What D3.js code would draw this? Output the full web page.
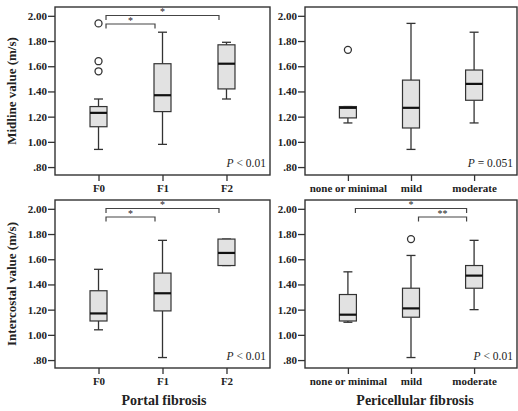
<!DOCTYPE html>
<html>
<head>
<meta charset="utf-8">
<script src="https://cdn.jsdelivr.net/npm/d3@7"></script>
<style>
  body { margin: 0; background: #fff; }
  text { font-family: "Liberation Serif", "DejaVu Serif", serif; fill: #222; }
</style>
</head>
<body>
<div id="chart"></div>
<script>
// categories
const portalCats = ["F0", "F1", "F2"];
const periCats = ["none or minimal", "mild", "moderate"];
const yTicks = [0.8, 1.0, 1.2, 1.4, 1.6, 1.8, 2.0];

// box stats: [low whisker, q1, median, q3, high whisker]
const midlinePortal = [[0.94, 1.12, 1.23, 1.28, 1.34], [0.98, 1.24, 1.37, 1.62, 1.87], [1.34, 1.42, 1.62, 1.77, 1.79]];
const midlinePortalOut = [[1.56, 1.64, 1.94], [], []];
const midlinePeri = [[1.15, 1.19, 1.27, 1.28, 1.28], [0.94, 1.11, 1.27, 1.49, 1.94], [1.15, 1.33, 1.46, 1.57, 1.87]];
const midlinePeriOut = [[1.73], [], []];
const interPortal = [[1.04, 1.11, 1.17, 1.35, 1.52], [0.82, 1.19, 1.33, 1.49, 1.75], [1.55, 1.55, 1.65, 1.76, 1.76]];
const interPortalOut = [[], [], []];
const interPeri = [[1.10, 1.11, 1.16, 1.32, 1.50], [0.82, 1.14, 1.21, 1.37, 1.63], [1.20, 1.37, 1.47, 1.55, 1.75]];
const interPeriOut = [[], [1.76], []];

// significance brackets: [from index, to index, label, level]
const midlinePortalSig = [[0, 1, "*", 0], [0, 2, "*", 1]];
const interPortalSig = [[0, 1, "*", 0], [0, 2, "*", 1]];
const interPeriSig = [[1, 2, "**", 0], [0, 2, "*", 1]];

const pLabels = ["< 0.01", "= 0.051", "< 0.01", "< 0.01"];

const W = 518, H = 411;
const svg = d3.select("#chart").append("svg").attr("width", W).attr("height", H);

const cols = [{x0: 55, x1: 270}, {x0: 305, x1: 517}];
const rows = [{y0: 7, y1: 175}, {y0: 200, y1: 368}];

const panels = [
  {r: 0, c: 0, cats: portalCats, stats: midlinePortal, out: midlinePortalOut, sig: midlinePortalSig, p: pLabels[0]},
  {r: 0, c: 1, cats: periCats, stats: midlinePeri, out: midlinePeriOut, sig: [], p: pLabels[1]},
  {r: 1, c: 0, cats: portalCats, stats: interPortal, out: interPortalOut, sig: interPortalSig, p: pLabels[2]},
  {r: 1, c: 1, cats: periCats, stats: interPeri, out: interPeriOut, sig: interPeriSig, p: pLabels[3]}
];

const fmt = d => {
  const s = d3.format(".2f")(d);
  return d < 1 ? s.replace(/^0/, "") : s;
};

const boxW = 17, capW = 9;

panels.forEach(pn => {
  const {x0, x1} = cols[pn.c];
  const {y0, y1} = rows[pn.r];
  const x = d3.scalePoint().domain(pn.cats).range([x0, x1]).padding(0.68);
  const y = d3.scaleLinear().domain([0.737, 2.07]).range([y1, y0]);
  const g = svg.append("g");

  // y axis
  const ya = g.append("g").attr("transform", `translate(${x0},0)`)
    .call(d3.axisLeft(y).tickValues(yTicks).tickFormat(fmt).tickSize(7).tickPadding(1));
  ya.select(".domain").remove();
  ya.selectAll("line").attr("stroke", "#333").attr("stroke-width", 1.3);
  ya.selectAll("text").style("font-family", "Liberation Serif").style("font-weight", "bold")
    .style("font-size", "11px").attr("fill", "#222");

  // x axis
  const xa = g.append("g").attr("transform", `translate(0,${y1})`)
    .call(d3.axisBottom(x).tickSize(6).tickPadding(3));
  xa.select(".domain").remove();
  xa.selectAll("line").attr("stroke", "#333").attr("stroke-width", 1.3);
  xa.selectAll("text").style("font-family", "Liberation Serif").style("font-weight", "bold")
    .style("font-size", "11px").attr("fill", "#222");

  // frame
  g.append("rect").attr("x", x0).attr("y", y0).attr("width", x1 - x0).attr("height", y1 - y0)
    .attr("fill", "none").attr("stroke", "#333").attr("stroke-width", 1.4);

  // boxes
  pn.cats.forEach((cat, i) => {
    const s = pn.stats[i];
    const cx = x(cat);
    const b = g.append("g");
    b.append("line").attr("x1", cx).attr("x2", cx).attr("y1", y(s[0])).attr("y2", y(s[1]))
      .attr("stroke", "#333").attr("stroke-width", 1.3);
    b.append("line").attr("x1", cx).attr("x2", cx).attr("y1", y(s[3])).attr("y2", y(s[4]))
      .attr("stroke", "#333").attr("stroke-width", 1.3);
    [s[0], s[4]].forEach(v => {
      b.append("line").attr("x1", cx - capW / 2).attr("x2", cx + capW / 2).attr("y1", y(v)).attr("y2", y(v))
        .attr("stroke", "#333").attr("stroke-width", 1.3);
    });
    b.append("rect").attr("x", cx - boxW / 2).attr("y", y(s[3])).attr("width", boxW)
      .attr("height", Math.max(0.5, y(s[1]) - y(s[3])))
      .attr("fill", "#e2e2e2").attr("stroke", "#333").attr("stroke-width", 1.2);
    b.append("line").attr("x1", cx - boxW / 2).attr("x2", cx + boxW / 2).attr("y1", y(s[2])).attr("y2", y(s[2]))
      .attr("stroke", "#111").attr("stroke-width", 2.2);
    pn.out[i].forEach(v => {
      b.append("circle").attr("cx", cx).attr("cy", y(v)).attr("r", 3.5)
        .attr("fill", "#fff").attr("stroke", "#333").attr("stroke-width", 1.3);
    });
  });

  // significance brackets
  pn.sig.forEach(([a, bIdx, lab, lvl]) => {
    const xa0 = x(pn.cats[a]) + boxW / 2 - 1;
    const xb0 = x(pn.cats[bIdx]) - boxW / 2 + 1;
    const by = y0 + (lvl === 1 ? 8.5 : 17);
    g.append("path").attr("d", `M${xa0},${by + 4.5}V${by}H${xb0}V${by + 4.5}`)
      .attr("fill", "none").attr("stroke", "#444").attr("stroke-width", 1.2);
    g.append("text").attr("x", (xa0 + xb0) / 2).attr("y", by - 0.5).attr("text-anchor", "middle")
      .style("font-size", "10px").text(lab);
  });

  // P value
  const pt = g.append("text").attr("x", x1 - 4).attr("y", y1 - 8).attr("text-anchor", "end")
    .style("font-size", "11.5px");
  pt.append("tspan").style("font-style", "italic").text("P");
  pt.append("tspan").text(" " + pn.p);
});

// axis titles
svg.append("text").attr("transform", `translate(16,${(rows[0].y0 + rows[0].y1) / 2}) rotate(-90)`)
  .attr("text-anchor", "middle").style("font-size", "13px").style("font-weight", "bold")
  .text("Midline value (m/s)");
svg.append("text").attr("transform", `translate(16,${(rows[1].y0 + rows[1].y1) / 2}) rotate(-90)`)
  .attr("text-anchor", "middle").style("font-size", "13px").style("font-weight", "bold")
  .text("Intercostal value (m/s)");
svg.append("text").attr("x", 164).attr("y", 405).attr("text-anchor", "middle")
  .style("font-size", "14px").style("font-weight", "bold").text("Portal fibrosis");
svg.append("text").attr("x", 415).attr("y", 405).attr("text-anchor", "middle")
  .style("font-size", "14px").style("font-weight", "bold").text("Pericellular fibrosis");
</script>
</body>
</html>
